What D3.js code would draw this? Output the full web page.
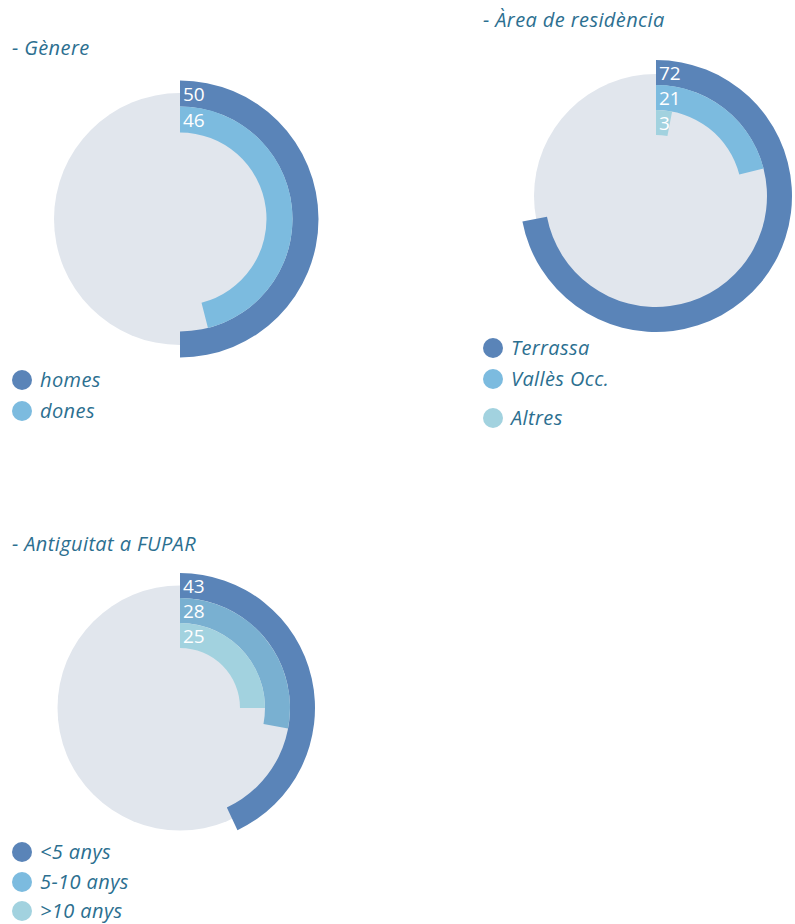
<!DOCTYPE html>
<html>
<head>
<meta charset="utf-8">
<script src="https://cdn.jsdelivr.net/npm/d3@7"></script>
<style>
  html, body { margin: 0; padding: 0; background: #ffffff; }
  svg { display: block; }
  text { font-family: "Open Sans", Lato, "Noto Sans", sans-serif; }
</style>
</head>
<body>
<svg id="chart" width="795" height="924"></svg>
<script>
// ---- Data ----
const chartTitles = ["- Gènere", "- Àrea de residència", "- Antiguitat a FUPAR"];

const genereCategories = ["homes", "dones"];
const genereValues = [50, 46];

const areaCategories = ["Terrassa", "Vallès Occ.", "Altres"];
const areaValues = [72, 21, 3];

const antiguitatCategories = ["<5 anys", "5-10 anys", ">10 anys"];
const antiguitatValues = [43, 28, 25];

const maxValue = 100;

// ---- Layout / style ----
const titleColor = "#2c6f90";
const bgColor = "#e1e6ed";

const panels = [
  {
    title: chartTitles[0], cats: genereCategories, vals: genereValues,
    cx: 180, cy: 219, outerR: 138.5, ringW: 26, bgR: 126,
    titleX: 12, titleY: 55,
    ringColors: ["#5a84b8", "#7cbbdf"],
    legendColors: ["#5a84b8", "#7cbbdf"],
    legendX: 22, legendY: [380, 411]
  },
  {
    title: chartTitles[1], cats: areaCategories, vals: areaValues,
    cx: 656, cy: 196, outerR: 136, ringW: 25, bgR: 122,
    titleX: 483, titleY: 27,
    ringColors: ["#5a84b8", "#7cbbdf", "#a2d2df"],
    legendColors: ["#5a84b8", "#7cbbdf", "#a2d2df"],
    legendX: 493, legendY: [348, 379, 418]
  },
  {
    title: chartTitles[2], cats: antiguitatCategories, vals: antiguitatValues,
    cx: 180, cy: 708, outerR: 135, ringW: 25, bgR: 122.5,
    titleX: 12, titleY: 551,
    ringColors: ["#5a84b8", "#79b0d1", "#a2d2df"],
    legendColors: ["#5a84b8", "#7cbbdf", "#a2d2df"],
    legendX: 22, legendY: [852, 882, 911]
  }
];

const svg = d3.select("#chart");
const angle = d3.scaleLinear().domain([0, maxValue]).range([0, 2 * Math.PI]);

panels.forEach(p => {
  const g = svg.append("g");

  // title
  g.append("text")
    .attr("x", p.titleX).attr("y", p.titleY)
    .attr("fill", titleColor)
    .attr("font-size", 20)
    .attr("letter-spacing", 0.4)
    .attr("font-style", "italic")
    .text(p.title);

  const chartG = g.append("g").attr("transform", `translate(${p.cx},${p.cy})`);

  // background circle
  chartG.append("circle").attr("r", p.bgR).attr("fill", bgColor);

  // first category is the outermost ring
  const radius = d3.scaleBand()
    .domain(p.cats.slice().reverse())
    .range([p.outerR - p.ringW * p.cats.length, p.outerR]);

  const arc = d3.arc()
    .innerRadius(d => radius(d.cat))
    .outerRadius(d => radius(d.cat) + radius.bandwidth())
    .startAngle(0)
    .endAngle(d => angle(d.val));

  const rows = p.cats.map((c, i) => ({ cat: c, val: p.vals[i], i }));

  chartG.selectAll("path.ring").data(rows).enter()
    .append("path").attr("class", "ring")
    .attr("d", arc)
    .attr("fill", d => p.ringColors[d.i]);

  chartG.selectAll("text.val").data(rows).enter()
    .append("text").attr("class", "val")
    .attr("x", 3)
    .attr("y", d => -(radius(d.cat) + radius.bandwidth() / 2) + 7)
    .attr("fill", "#ffffff")
    .attr("font-size", 19)
    .text(d => d.val);

  // legend
  const lg = g.selectAll("g.leg").data(rows).enter()
    .append("g").attr("class", "leg")
    .attr("transform", d => `translate(${p.legendX},${p.legendY[d.i]})`);
  lg.append("circle").attr("r", 10).attr("fill", d => p.legendColors[d.i]);
  lg.append("text")
    .attr("x", 18).attr("y", 6.5)
    .attr("fill", titleColor)
    .attr("font-size", 20)
    .attr("letter-spacing", 0.4)
    .attr("font-style", "italic")
    .text(d => d.cat);
});
</script>
</body>
</html>
